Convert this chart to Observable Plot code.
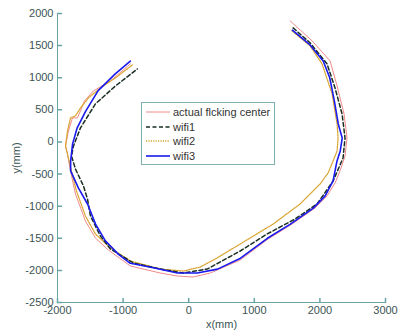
<!DOCTYPE html>
<html><head><meta charset="utf-8">
<script src="https://cdn.jsdelivr.net/npm/d3@7"></script>
<script src="https://cdn.jsdelivr.net/npm/@observablehq/plot@0.6"></script>
<style>
body{margin:0;background:#fff;}
#wrap{position:relative;width:398px;height:331px;font-family:"Liberation Sans",Arial,sans-serif;}
#legend{position:absolute;left:141px;top:102px;width:132px;height:61px;border:1px solid #7fb0b0;background:#fff;font-size:11px;color:#333;}
#legend .row{position:absolute;left:3px;height:14px;display:flex;align-items:center;}
#legend svg{width:26px;height:14px;margin-right:2px;}
</style>
</head><body>
<div id="wrap"></div>
<script>
const seriesNames = ["actual flcking center", "wifi1", "wifi2", "wifi3"];
const xTicks = [-2000, -1000, 0, 1000, 2000, 3000];
const yTicks = [-2500, -2000, -1500, -1000, -500, 0, 500, 1000, 1500, 2000];

const actual = [[1546,1885],[1881,1574],[2155,1262],[2262,872],[2368,436],[2414,62],[2383,-218],[2307,-452],[2231,-639],[2109,-841],[1927,-1028],[1577,-1278],[1211,-1511],[785,-1838],[329,-2041],[70,-2103],[-174,-2088],[-432,-2041],[-889,-1932],[-1224,-1683],[-1422,-1496],[-1574,-1231],[-1726,-810],[-1802,-452],[-1848,-187],[-1878,-62],[-1833,171],[-1772,374],[-1696,374],[-1650,483],[-1589,639],[-1452,795],[-1193,950],[-889,1215]];
const wifi1 = [[1592,1776],[1851,1542],[2109,1215],[2231,841],[2338,436],[2383,62],[2353,-249],[2201,-608],[1957,-966],[1622,-1200],[1196,-1433],[785,-1698],[283,-1979],[-82,-2041],[-432,-1979],[-843,-1885],[-1193,-1667],[-1346,-1465],[-1498,-1153],[-1543,-888],[-1604,-686],[-1726,-421],[-1787,-218],[-1756,-62],[-1650,218],[-1422,592],[-1117,872],[-782,1137]];
const wifi2 = [[1577,1729],[1851,1496],[2033,1215],[2186,748],[2262,280],[2277,62],[2262,-140],[2201,-296],[2125,-483],[2003,-654],[1698,-966],[1288,-1278],[785,-1589],[405,-1823],[176,-1948],[-82,-2010],[-432,-1979],[-889,-1854],[-1193,-1651],[-1422,-1433],[-1574,-1153],[-1711,-763],[-1787,-452],[-1848,-187],[-1878,-62],[-1848,171],[-1802,374],[-1726,405],[-1650,530],[-1528,686],[-1346,841],[-1117,997],[-858,1200]];
const wifi3 = [[1580,1740],[1850,1510],[2050,1260],[2150,1000],[2220,640],[2280,280],[2340,60],[2310,-140],[2260,-300],[2200,-610],[2080,-840],[1900,-1030],[1550,-1280],[1200,-1500],[790,-1810],[440,-1980],[130,-2040],[-170,-2040],[-540,-1960],[-890,-1890],[-1070,-1750],[-1270,-1540],[-1420,-1280],[-1540,-970],[-1680,-720],[-1800,-450],[-1800,-300],[-1770,-30],[-1700,220],[-1570,480],[-1380,800],[-1120,1060],[-890,1260]];

const styles = [
  {stroke:"#f08a8a", strokeWidth:1, dash:null},
  {stroke:"#1a2e22", strokeWidth:1.5, dash:"4,2.5"},
  {stroke:"#d9a530", strokeWidth:1.3, dash:"1.2,1.2"},
  {stroke:"#1a1aee", strokeWidth:1.6, dash:null}
];
const allData = [actual, wifi1, wifi2, wifi3];

const axisColor = "#6aa5a5";
const textColor = "#3b5454";
const tickShape = {draw(context, l) { context.moveTo(0, 0); context.lineTo(0, -l); }};

const marks = [];
[0,2,1,3].forEach(i => {
  const s = styles[i];
  marks.push(Plot.line(allData[i], {x: d => d[0], y: d => d[1], stroke: s.stroke, strokeWidth: s.strokeWidth, strokeDasharray: s.dash, strokeLinejoin:"round"}));
});

const chart = Plot.plot({
  width: 398, height: 331,
  marginLeft: 57, marginRight: 13, marginTop: 13, marginBottom: 29,
  style: {fontFamily: '"Liberation Sans", Arial, sans-serif', fontSize: "11px", color: textColor, background: "#fff"},
  x: {domain: [-2000, 3000]},
  y: {domain: [-2500, 2000]},
  marks: [
    Plot.axisX({ticks: xTicks, tickSize: 0, tickPadding: 4, tickFormat: d => String(d), fill: textColor, label: "x(mm)", labelAnchor: "center", labelArrow: "none", labelOffset: 25}),
    Plot.axisY({ticks: yTicks, tickSize: 0, tickPadding: 4, tickFormat: d => String(d), fill: textColor, label: "y(mm)", labelAnchor: "center", labelArrow: "none", labelOffset: 45}),
    Plot.vector(xTicks, {x: d => d, y: -2500, length: 4, rotate: 0, anchor: "start", shape: tickShape, stroke: axisColor}),
    Plot.vector(yTicks, {x: -2000, y: d => d, length: 4, rotate: 90, anchor: "start", shape: tickShape, stroke: axisColor}),
    Plot.ruleX([-2000], {stroke: axisColor}),
    Plot.ruleY([-2500], {stroke: axisColor}),
    ...marks
  ]
});
const wrap = document.getElementById("wrap");
wrap.appendChild(chart);

const legend = document.createElement("div");
legend.id = "legend";
seriesNames.forEach((name, i) => {
  const s = styles[i];
  const row = document.createElement("div");
  row.className = "row";
  row.style.top = (2 + i * 14.7) + "px";
  row.innerHTML = `<svg><line x1="1" x2="25" y1="7" y2="7" stroke="${s.stroke}" stroke-width="${s.strokeWidth}" ${s.dash ? `stroke-dasharray="${s.dash}"` : ""}/></svg><span>${name}</span>`;
  legend.appendChild(row);
});
wrap.appendChild(legend);
</script>
</body></html>
